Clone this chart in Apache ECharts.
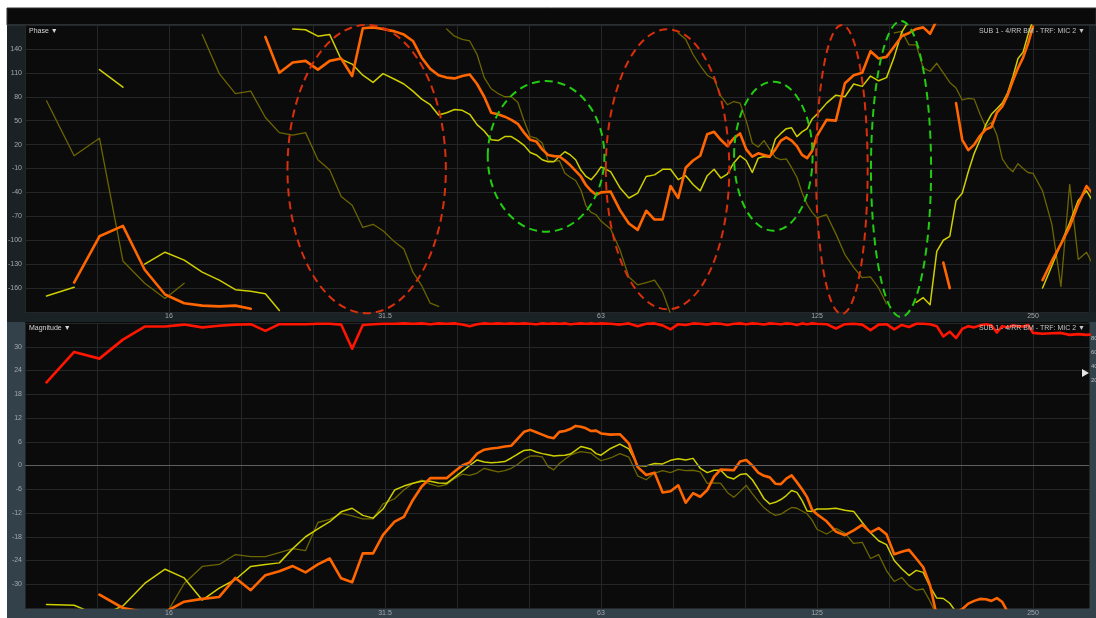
<!DOCTYPE html>
<html>
<head>
<meta charset="utf-8">
<script src="https://cdn.jsdelivr.net/npm/echarts@6/dist/echarts.min.js"></script>
<style>
  html, body { margin: 0; padding: 0; background: #ffffff; }
  #chart { width: 1096px; height: 618px; }
</style>
</head>
<body>
<div id="chart"></div>
<script>
// Measurement frequencies (Hz)
const freqHz = [10.8,11.8,12.8,13.8,14.8,15.8,16.8,17.8,18.8,19.8,20.8,21.8,22.8,23.8,24.8,25.8,26.8,27.8,28.8,29.8,30.8,31.8,
  33,34,35,36,37,38,39,40,41,42,43,44,45,46,47,48,49,50,51,52,53,54,55,56,57,58,59,60,61,62,63,
  64,66,68,70,72,74,76,78,80,82,84,86,88,90,92,94,96,98,100,102,104,106,108,110,112,114,116,118,120,122,124,126,
  128,132,136,140,144,148,152,156,160,164,168,172,176,180,184,188,192,196,200,204,208,212,216,220,224,228,232,236,240,244,248,252,
  256,264,272,280,288,296,304,312];

// Phase traces (degrees, wrapped)
const phaseOrange = [null,-153,-95,-82,-137,-168,-179,-182,-183,-182,-186,155,110,123,125,114,125,128,106,166,167,165,
  162,158,150,129,115,107,104,103,106,108,96,80,60,58,55,51,46,35,26,24,14,7,5.5,5,0,-6,-13,-20,-31,-38,-43,
  -40,-39,-62,-79,-87,-63,-74,-74,-32,-47,-9,0,6,33,36,26,18,28,34,14,5,9,7,5,14,25,29,25,18,7,3,12,
  31,51,50,97,107,110,137,128,130,143,156,160,165,167,159,176,-128,-160,72,26,13,20,31,39,42,60,68,82,100,116,129,147,
  168,-150,-126,-105,-83,-55,-32,-45];

const phaseYellow = [-170,-159,114,92,-130,-115,-125,-140,-150,-162,-164,-167,-188,165,164,156,158,127,121,107,98,109,
  102,96,87,77,70,57,60,64,63,58,45,37,26,25,30,30,25,19,10,7,1,-1.5,-1.5,5,11,7,1,-12,-20,-24,-17,
  -8,-14,-34,-47,-41,-20,-18,-11,-11,-24,-19,-30,-38,-19,-11,-22,-17,-3,6,0,-15,3,5,4,27,34,40,41,30,36,40,52,
  58,72,82,80,96,93,106,100,104,130,161,176,-178,-172,-181,-114,-100,-95,-50,-41,-14,9,26,45,58,65,72,85,105,128,136,158,
  176,-160,-132,-104,-78,-50,-38,-55];

const phaseOlive = [75,6,28,-126,-154,-173,-154,158,109,84,87,54,35,32,35,1,-12,-45,-56,-84,-80,-88,
  -102,-111,-140,-157,-179,-183,165,156,152,150,133,104,90,84,80,80,73,50,30,28,22,0,-1,0,-16,-21,-25,-37,-57,-65,-68,
  -76,-86,-112,-146,-156,-153,-150,-165,-192,160,152,133,119,107,102,81,70,74,72,50,22,17,25,14,4,1,2,-9,-21,-40,-55,-65,
  -72,-68,-92,-118,-134,-147,-146,-160,-180,160,162,145,145,116,112,122,110,98,91,76,78,77,58,42,48,32,2,-8,-14,-4,-10,-15,
  -16,-38,-80,-158,-30,-124,-115,-135];

// Magnitude traces (dB)
const magRed = [21,28.7,27,31.8,35.1,35.1,35.6,34.9,35.3,35.6,35.7,34,35.7,35.7,35.7,35.8,35.8,35.6,29.5,35.5,35.7,35.8,
  35.8,35.9,35.8,35.9,35.7,35.9,35.8,35.9,35.6,35.2,35.7,35.9,35.8,35.9,35.8,35.9,35.8,35.9,35.8,35.7,35.9,35.8,35.9,35.8,35.9,35.7,35.8,35.9,35.8,35.9,35.8,
  35.9,35.8,35.6,35.9,35.2,35.8,35.9,35.4,34.4,35.7,35.5,35.9,35.8,35.6,35.9,35.8,35.5,35.8,35.9,35.7,35.9,35.8,35.6,35.9,35.8,35.7,35.9,35.8,35.5,35.9,35.7,35.9,
  35.8,35.7,34.6,35.7,35.8,35.6,34.2,35.6,35.7,34.4,35.5,35,35.8,35.8,35.7,35.2,32.6,33.8,32.2,34.5,35.2,34.9,35.4,35.7,35.4,33.6,35.2,34.9,35.4,35.2,35.1,35.5,
  33.5,33.3,33.4,33.5,33,33.2,33,33.2];

const magOrange = [null,null,-32.6,-36,-37,-37,-34.4,-33.7,-33.2,-28.4,-31.5,-27.7,-26.7,-25.4,-27,-25,-23.5,-28.5,-29.5,-22.2,-22.2,-17.5,
  -14.2,-13,-8.7,-5.3,-3.2,-3.2,-3.2,-1.5,0,0.8,3,4,4.3,4.5,4.8,5,6.8,8.5,9,8.4,7.8,7.2,6.9,8.5,8.7,9.2,10,9.8,9.4,8.7,8.8,
  8.1,7.8,7.9,5.5,-0.4,-2.4,-1.8,-6.8,-6.5,-5,-9.4,-7,-7.9,-6.2,-2.8,-1,-1.1,-1.2,1,1.4,0,-1.8,-2.6,-3,-4.6,-4.7,-3.3,-2.5,-4.2,-6,-8,-11.2,
  -12.3,-14.1,-16.7,-17.6,-16.4,-15,-16.9,-15.8,-17.4,-22.4,-21.8,-21.3,-23.5,-25.7,-30.3,-38,-39,-38,-37,-36.3,-34.9,-34.2,-33.7,-33.8,-34.2,-33.5,-34.5,-37,null,null,null,null,
  null,null,null,null,null,null,null,null];

const magYellow = [-35.1,-35.3,-38,-35.5,-29.8,-26.2,-28.4,-34,-31,-28.8,-25.5,-25,-24.6,-21,-18,-16,-14.2,-11.7,-10.8,-12.6,-13.3,-11,
  -6.2,-5.2,-4.5,-4,-4,-4.4,-4.5,-3,-1.5,0,1.4,0.9,0.7,0.8,1,1.9,2.9,3.8,4,3.4,3,2.7,2.4,2.5,2.6,2.9,3.8,4.8,4.5,4.1,3,
  2.6,4.3,5.4,4.2,0,-0.1,0.5,0.4,1.3,1.7,1.4,1.8,-0.7,-1.8,-1.2,-1.2,-2.9,-3.4,-2.3,-2.1,-3.6,-5.9,-8.4,-9.7,-9.3,-8.6,-7.6,-6.3,-6.8,-8.8,-11.5,-11.6,
  -11,-11,-10.8,-11.3,-11.6,-14.4,-17,-19,-20,-24,-26.1,-27.8,-26.5,-27,-30.6,-33.5,-33.6,-34.8,-37,null,null,null,null,null,null,null,null,null,null,null,null,null,
  null,null,null,null,null,null,null,null];

const magOlive = [null,null,null,null,null,-38,-29.8,-25.5,-25,-22.5,-23,-23,-22,-21,-21.5,-14.4,-13.6,-12.1,-12.7,-13.5,-13.5,-9.7,
  -8.4,-6.2,-4.5,-3.7,-4.7,-5.3,-4.8,-3.3,-2.2,-2.5,-1.9,-0.7,-1.2,-1.6,-1.3,-0.7,0.3,1.6,2.4,2.4,2.2,-0.3,-1.1,0.5,1.6,2.6,3.1,3.5,3.3,3.1,2.1,
  1.2,1.9,3,2.1,-2.6,-3.6,-1.9,-1.3,-1.8,-1,-1.3,-1.2,-1.6,-4.5,-4.4,-4.5,-6.8,-8,-6.6,-5,-7.1,-9,-10.7,-11.8,-12.6,-12.3,-11.4,-10.6,-10.8,-11.5,-12.2,-13.8,
  -16.1,-17.3,-15.9,-17.1,-19.7,-19.4,-23.5,-22.5,-26.6,-29.3,-28.3,-30.4,-31.5,-31.2,-34.3,-38,null,null,null,null,null,null,null,null,null,null,null,null,null,null,null,null,
  null,null,null,null,null,null,null,null];

// Dashed ring annotations on the phase plot: [low Hz, high Hz, top deg, bottom deg]
const redRings = [[23.4, 38.9, 170, -191.6], [65.0, 96.6, 164.6, -186.6], [127.6, 150.6, 170, -192.5]];
const greenRings = [[44.5, 64.7, 99.8, -89.3], [98.1, 126.2, 98.9, -88], [152.2, 184.6, 175, -196.3]];

// Axis tick labels
const octaveLabels = ['16', '31.5', '63', '125', '250'];
const sideScaleLabels = ['80', '60', '40', '20'];

// x position in third-octave steps above 16 Hz
const toX = f => 3 * Math.log2(f / 16);

function magPairs(vals) {
  return vals.map((v, i) => [toX(freqHz[i]), v]);
}
// phase: break the trace where it wraps
function phasePairs(vals) {
  const out = [];
  let prev = null;
  vals.forEach((v, i) => {
    const x = toX(freqHz[i]);
    if (v != null && prev && Math.abs(v - prev.v) > 180) out.push([(x + prev.x) / 2, null]);
    out.push([x, v]);
    prev = v == null ? null : { x: x, v: v };
  });
  return out;
}

const FONT = 'Liberation Sans, Arial, sans-serif';
const gridColor = '#252627';
const labelColor = '#a3a8ab';

function xAxisCfg(idx, margin) {
  return {
    type: 'value', gridIndex: idx, min: -2, max: 12.778, interval: 1,
    axisLine: { show: false }, axisTick: { show: false },
    splitLine: { show: true, lineStyle: { color: gridColor, width: 1 } },
    axisLabel: {
      color: labelColor, fontSize: 7, fontFamily: FONT, margin: margin,
      formatter: function (v) {
        const k = Math.round(v);
        if (Math.abs(v - k) > 1e-6 || k < 0 || k % 3 !== 0) return '';
        return octaveLabels[k / 3] || '';
      }
    }
  };
}
function yAxisCfg(idx, min, max, interval) {
  return {
    type: 'value', gridIndex: idx, min: min, max: max, interval: interval,
    axisLine: { show: false }, axisTick: { show: false },
    splitLine: { show: true, lineStyle: { color: gridColor, width: 1 } },
    axisLabel: { color: labelColor, fontSize: 7, fontFamily: FONT, margin: 3, showMinLabel: false, showMaxLabel: false }
  };
}
function lineSeries(data, axis, color, width, extra) {
  return Object.assign({
    type: 'line', xAxisIndex: axis, yAxisIndex: axis, data: data,
    symbol: 'none', showSymbol: false, connectNulls: false, animation: false, silent: true,
    lineStyle: { color: color, width: width, join: 'round', cap: 'round' }
  }, extra || {});
}
function ringSeries(rings, color) {
  return {
    type: 'custom', xAxisIndex: 0, yAxisIndex: 0, data: rings, clip: false, z: 6, silent: true, animation: false,
    renderItem: function (params, api) {
      const a = api.coord([toX(api.value(0)), api.value(2)]);
      const b = api.coord([toX(api.value(1)), api.value(3)]);
      return {
        type: 'ellipse',
        shape: { cx: (a[0] + b[0]) / 2, cy: (a[1] + b[1]) / 2, rx: Math.abs(b[0] - a[0]) / 2, ry: Math.abs(b[1] - a[1]) / 2 },
        style: { fill: 'none', stroke: color, lineWidth: 2, lineDash: [8, 5] }
      };
    }
  };
}

const topStrip = '#1b2225';
const lowStrip = '#33414b';

const chart = echarts.init(document.getElementById('chart'), null, { renderer: 'canvas' });
chart.setOption({
  backgroundColor: '#ffffff',
  animation: false,
  grid: [
    { left: 25, right: 7, top: 25, height: 287 },
    { left: 25, right: 7, top: 323, height: 285 }
  ],
  xAxis: [xAxisCfg(0, 1), xAxisCfg(1, 2)],
  yAxis: [yAxisCfg(0, -190, 170, 30), yAxisCfg(1, -36, 36, 6)],
  graphic: [
    { type: 'rect', z: -20, silent: true, shape: { x: 7, y: 8, width: 1089, height: 610 }, style: { fill: '#0b0b0b' } },
    { type: 'rect', z: -19, silent: true, shape: { x: 7, y: 8, width: 1089, height: 17 }, style: { fill: '#0a0a0a', stroke: '#2c3034', lineWidth: 1 } },
    { type: 'line', z: -18, silent: true, shape: { x1: 7, y1: 25, x2: 1096, y2: 25 }, style: { stroke: '#3d4246', lineWidth: 1 } },
    { type: 'rect', z: -19, silent: true, shape: { x: 7, y: 25, width: 18, height: 287 }, style: { fill: topStrip } },
    { type: 'rect', z: -19, silent: true, shape: { x: 7, y: 312, width: 1089, height: 10 }, style: { fill: topStrip } },
    { type: 'rect', z: -19, silent: true, shape: { x: 1089, y: 25, width: 7, height: 287 }, style: { fill: '#171c1f' } },
    { type: 'rect', z: -19, silent: true, shape: { x: 7, y: 322, width: 18, height: 286 }, style: { fill: lowStrip } },
    { type: 'rect', z: -19, silent: true, shape: { x: 7, y: 608, width: 1089, height: 10 }, style: { fill: lowStrip } },
    { type: 'rect', z: -19, silent: true, shape: { x: 1089, y: 322, width: 7, height: 286 }, style: { fill: lowStrip } },
    { type: 'text', z: 50, silent: true, x: 29, y: 31, style: { text: 'Phase ▼', fill: '#d6d6d6', fontSize: 7, fontFamily: FONT, verticalAlign: 'middle' } },
    { type: 'text', z: 50, silent: true, x: 29, y: 328, style: { text: 'Magnitude ▼', fill: '#d6d6d6', fontSize: 7, fontFamily: FONT, verticalAlign: 'middle' } },
    { type: 'text', z: 50, silent: true, x: 1085, y: 31, style: { text: 'SUB 1 - 4/RR BM - TRF: MIC 2 ▼', fill: '#c4c4c4', fontSize: 7, fontFamily: FONT, align: 'right', verticalAlign: 'middle' } },
    { type: 'text', z: 50, silent: true, x: 1085, y: 328, style: { text: 'SUB 1 - 4/RR BM - TRF: MIC 2 ▼', fill: '#c4c4c4', fontSize: 7, fontFamily: FONT, align: 'right', verticalAlign: 'middle' } },
    { type: 'text', z: 50, silent: true, x: 1091, y: 338, style: { text: sideScaleLabels[0], fill: '#b8bec2', fontSize: 6, fontFamily: FONT, verticalAlign: 'middle' } },
    { type: 'text', z: 50, silent: true, x: 1091, y: 352, style: { text: sideScaleLabels[1], fill: '#b8bec2', fontSize: 6, fontFamily: FONT, verticalAlign: 'middle' } },
    { type: 'text', z: 50, silent: true, x: 1091, y: 366, style: { text: sideScaleLabels[2], fill: '#b8bec2', fontSize: 6, fontFamily: FONT, verticalAlign: 'middle' } },
    { type: 'text', z: 50, silent: true, x: 1091, y: 380, style: { text: sideScaleLabels[3], fill: '#b8bec2', fontSize: 6, fontFamily: FONT, verticalAlign: 'middle' } },
    { type: 'polygon', z: 50, silent: true, shape: { points: [[1082, 369], [1089, 373], [1082, 377]] }, style: { fill: '#e6e6e6' } }
  ],
  series: [
    lineSeries(phasePairs(phaseOlive), 0, '#6c6500', 1.3),
    lineSeries(phasePairs(phaseYellow), 0, '#cfcf00', 1.5),
    lineSeries(phasePairs(phaseOrange), 0, '#ff6600', 2.6),
    ringSeries(redRings, '#d8300c'),
    ringSeries(greenRings, '#22cc10'),
    lineSeries(magPairs(magOlive), 1, '#6c6500', 1.3, {
      markLine: { silent: true, symbol: 'none', label: { show: false }, animation: false,
        lineStyle: { color: '#5e5f60', width: 1, type: 'solid' }, data: [{ yAxis: 0 }] }
    }),
    lineSeries(magPairs(magYellow), 1, '#cfcf00', 1.5),
    lineSeries(magPairs(magOrange), 1, '#ff6600', 2.6),
    lineSeries(magPairs(magRed), 1, '#ff1500', 2.6)
  ]
});
</script>
</body>
</html>
